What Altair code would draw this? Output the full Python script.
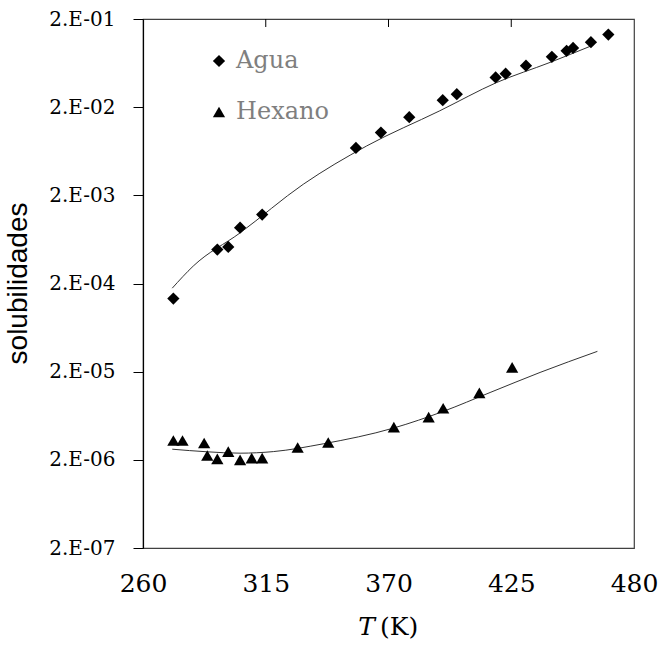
import altair as alt
import pandas as pd

# ---- data ----
agua_T = [273.6, 293.3, 298.2, 303.5, 313.4, 355.4, 366.6, 379.3, 394.3, 400.6,
          418.0, 422.5, 431.6, 443.2, 449.8, 452.7, 460.7, 468.5]
agua_s = [1.35e-4, 4.86e-4, 5.2e-4, 8.6e-4, 1.21e-3, 6.9e-3, 1.03e-2, 1.54e-2, 2.4e-2, 2.81e-2,
          4.35e-2, 4.79e-2, 5.9e-2, 7.46e-2, 8.7e-2, 9.4e-2, 1.09e-1, 1.33e-1]

hex_T = [273.6, 277.7, 287.4, 288.8, 293.3, 298.2, 303.5, 308.7, 313.4, 329.3,
         343.0, 372.4, 388.0, 394.5, 410.7, 425.4]
hex_s = [3.31e-6, 3.31e-6, 3.1e-6, 2.24e-6, 2.05e-6, 2.48e-6, 2.0e-6, 2.09e-6, 2.09e-6, 2.76e-6,
         3.15e-6, 4.7e-6, 6.1e-6, 7.7e-6, 1.15e-5, 2.24e-5]

agua_fit_T = [273.1, 282.5, 303.5, 331.8, 360.2, 393.0, 418.4, 442.4, 461.0]
agua_fit_s = [1.77e-4, 3.15e-4, 7.5e-4, 2.67e-3, 7.26e-3, 1.82e-2, 3.8e-2, 6.44e-2, 9.95e-2]

hex_fit_T = [273.1, 288.5, 303.5, 318.4, 340.8, 372.2, 394.5, 415.5, 437.9, 463.6]
hex_fit_s = [2.64e-6, 2.47e-6, 2.38e-6, 2.48e-6, 3.04e-6, 4.58e-6, 7.08e-6, 1.16e-5, 1.96e-5, 3.4e-5]

x_ticks = [260, 315, 370, 425, 480]
y_ticks = [2e-7, 2e-6, 2e-5, 2e-4, 2e-3, 2e-2, 2e-1]
series = ["Agua", "Hexano"]

points = pd.DataFrame({
    "T": agua_T + hex_T,
    "s": agua_s + hex_s,
    "serie": ["Agua"] * len(agua_T) + ["Hexano"] * len(hex_T),
})
fits = pd.DataFrame({
    "T": agua_fit_T + hex_fit_T,
    "s": agua_fit_s + hex_fit_s,
    "serie": ["Agua"] * len(agua_fit_T) + ["Hexano"] * len(hex_fit_T),
})

SERIF = "DejaVu Serif"

xscale = alt.Scale(domain=[260, 480], nice=False, zero=False)
yscale = alt.Scale(type="log", domain=[2e-7, 2e-1], nice=False)

x_axis = alt.Axis(values=x_ticks, title=None, grid=False, ticks=False, domain=False,
                  labelFlush=False, labelFont=SERIF, labelFontSize=25, labelColor="black",
                  labelPadding=23)
y_axis = alt.Axis(values=y_ticks, title="solubilidades", grid=False, tickSize=10,
                  tickColor="black", domain=True, domainColor="black", domainWidth=1.2,
                  labelFlush=False,
                  labelExpr="'2.E-0' + (-round(log(datum.value/2)/LN10))",
                  labelFont=SERIF, labelFontSize=20, labelColor="black", labelPadding=18,
                  titleFont="Liberation Sans", titleFontSize=28, titleFontWeight="normal",
                  titleColor="black", titleX=-125, titleY=264, titleAlign="center",
                  titleBaseline="middle", titleAngle=270)

lines = alt.Chart(fits).mark_line(color="#333333", strokeWidth=1, interpolate="monotone").encode(
    x=alt.X("T:Q", scale=xscale, axis=x_axis),
    y=alt.Y("s:Q", scale=yscale, axis=y_axis),
    detail="serie:N",
)

pts = alt.Chart(points).mark_point(filled=True, color="black", opacity=1).encode(
    x=alt.X("T:Q", scale=xscale),
    y=alt.Y("s:Q", scale=yscale),
    shape=alt.Shape("serie:N",
                    scale=alt.Scale(domain=series, range=["diamond", "triangle-up"]),
                    legend=alt.Legend(title=None, orient="none", legendX=64, legendY=30,
                                      symbolSize=150, symbolFillColor="black",
                                      symbolStrokeColor="black", symbolStrokeWidth=0,
                                      labelFont=SERIF, labelFontSize=24, labelColor="#7f7f7f",
                                      labelOffset=5, rowPadding=27)),
    size=alt.value(150),
)

top_ticks = alt.Chart(pd.DataFrame({"T": x_ticks[1:-1]})).mark_rule(color="black", strokeWidth=1).encode(
    x=alt.X("T:Q", scale=xscale),
    y=alt.value(0),
    y2=alt.value(8),
)

one = pd.DataFrame({"a": [0]})
t_label = alt.Chart(one).mark_text(font=SERIF, fontSize=25, fontStyle="italic", align="right",
                                   baseline="middle", color="black").encode(
    x=alt.value(232), y=alt.value(608), text=alt.value("T"))
k_label = alt.Chart(one).mark_text(font=SERIF, fontSize=25, align="left",
                                   baseline="middle", color="black").encode(
    x=alt.value(237), y=alt.value(608), text=alt.value("(K)"))

chart = alt.layer(lines, pts, top_ticks, t_label, k_label).properties(
    width=491, height=529,
    autosize=alt.AutoSizeParams(type="none"),
    padding={"left": 143, "top": 19, "right": 26, "bottom": 98},
    background="white",
).configure_view(stroke="#404040", strokeWidth=1.2)

chart.save("out.html", embed_options={"renderer": "svg", "actions": False})
